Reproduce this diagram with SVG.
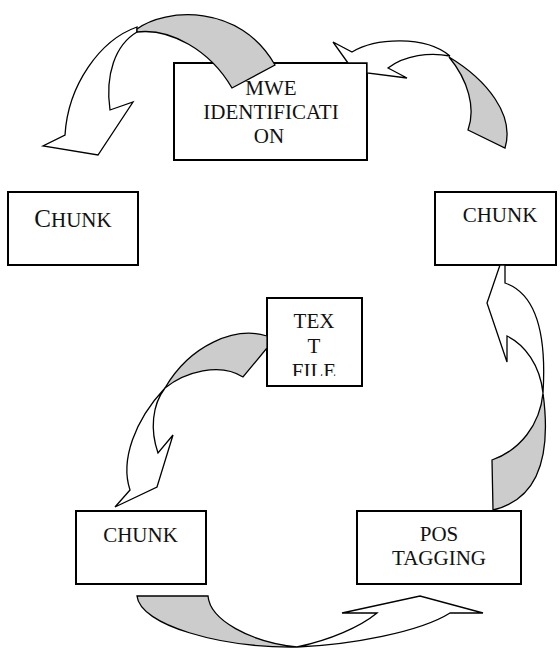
<svg xmlns="http://www.w3.org/2000/svg" width="560" height="649" viewBox="0 0 560 649">
<style>
.box{fill:#fff;stroke:#000;stroke-width:2}
.lbl{font-family:"Liberation Serif","Times New Roman",serif;font-size:21px;fill:#111;text-anchor:middle}
.w{fill:#fff;stroke:#000;stroke-width:1.3;stroke-linejoin:miter}
.g{fill:#cccccc;stroke:#000;stroke-width:1.3;stroke-linejoin:miter}
</style>
<defs>
<clipPath id="tfclip"><rect x="268" y="299" width="93" height="77"/></clipPath>
</defs>
<rect width="560" height="649" fill="#fff"/>
<g id="mwe">
<rect class="box" x="174" y="63" width="193" height="97"/>
<text class="lbl" x="271" y="95">MWE</text>
<text class="lbl" x="271" y="119">IDENTIFICATI</text>
<text class="lbl" x="269" y="143">ON</text>
</g>
<g id="chunk-left">
<rect class="box" x="8" y="192" width="130" height="73"/>
<text class="lbl" x="73" y="227"><tspan font-size="25">C</tspan>HUNK</text>
</g>
<g id="chunk-right">
<rect class="box" x="435" y="192" width="121" height="73"/>
<text class="lbl" x="500" y="222">CHUNK</text>
</g>
<g id="text-file">
<rect class="box" x="267" y="298" width="95" height="88"/>
<g clip-path="url(#tfclip)">
<text class="lbl" x="314" y="328">TEX</text>
<text class="lbl" x="314" y="353">T</text>
<text class="lbl" x="314" y="378">FILE</text>
</g>
</g>
<g id="chunk-bottom">
<rect class="box" x="76" y="511" width="130" height="73"/>
<text class="lbl" x="140.5" y="542">CHUNK</text>
</g>
<g id="pos-tagging">
<rect class="box" x="357" y="511" width="164" height="73"/>
<text class="lbl" x="439" y="541">POS</text>
<text class="lbl" x="439" y="565">TAGGING</text>
</g>
<g id="connectors">
<!-- MWE -> left CHUNK -->
<path class="w" d="M137,27 C100,40 68,85 65,135 L43,146 L98,155 L133,102 L110,110 C105,75 115,45 137,32 Z"/>
<path class="g" d="M137,29 C165,8 240,3 275,65 L232,88 C210,50 170,28 137,32 Z"/>
<!-- right CHUNK -> MWE -->
<path class="w" d="M352,52 C375,38 425,35 450,56 C430,52 405,55 388,68 L407,78 L367,73 L367,63 L348,63 L333,42 Z"/>
<path class="g" d="M449,57 C487,80 515,115 505,148 L468,130 C476,108 468,80 449,57 Z"/>
<!-- POS -> right CHUNK -->
<path class="w" d="M500,265 L487,303 L507,362 L507,336 C525,345 540,365 543,393 C546,345 540,295 505,283 L505,265 Z"/>
<path class="g" d="M543,393 C550,445 545,498 493,510 L492,460 C520,450 540,425 543,393 Z"/>
<!-- TEXT FILE -> bottom CHUNK -->
<path class="w" d="M165,388 C135,420 120,460 130,490 L115,507 L157,487 L173,435 L158,453 C150,430 152,405 165,388 Z"/>
<path class="g" d="M267,336 C235,326 190,345 165,388 C185,372 220,362 243,377 L267,348 Z"/>
<!-- bottom CHUNK -> POS -->
<path class="g" d="M137,596 L208,596 C210,620 250,642 297,647 C220,648 140,625 137,596 Z"/>
<path class="w" d="M297,647 C350,645 420,632 450,613 L483,613 L420,596 L342,613 L377,613 C360,627 330,640 297,647 Z"/>
</g>
</svg>
